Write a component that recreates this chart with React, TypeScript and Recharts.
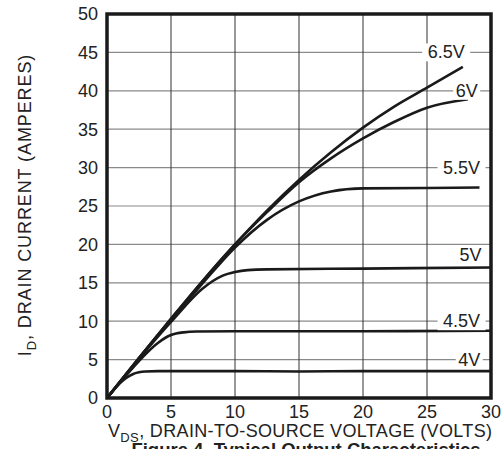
import React from 'react';
import {
  LineChart, Line, XAxis, YAxis, CartesianGrid, ReferenceArea, ReferenceDot, Customized,
} from 'recharts';

const xTicks = [0, 5, 10, 15, 20, 25, 30];
const yTicks = [0, 5, 10, 15, 20, 25, 30, 35, 40, 45, 50];

const vds4 = [0, 0.5, 1, 1.5, 2, 2.5, 3, 4, 6, 10, 15, 20, 25, 30];
const id4 = [0, 1.0, 1.9, 2.6, 3.1, 3.35, 3.45, 3.5, 3.5, 3.5, 3.45, 3.5, 3.5, 3.5];

const vds45 = [0, 1, 2, 3, 4, 5, 6, 7, 10, 20, 30];
const id45 = [0, 2.0, 3.9, 5.7, 7.2, 8.2, 8.55, 8.65, 8.7, 8.7, 8.75];

const vds5 = [0, 2.5, 5, 7.5, 9, 10, 11, 12.5, 20, 30];
const id5 = [0, 5.1, 9.9, 14.3, 15.9, 16.4, 16.65, 16.75, 16.85, 17.0];

const vds55 = [0, 2.5, 5, 7.5, 10, 12.5, 15, 17.5, 20, 25, 29.1];
const id55 = [0, 5.2, 10.2, 15.0, 19.6, 23.2, 25.6, 26.9, 27.3, 27.35, 27.4];

const vds6 = [0, 2.5, 5, 7.5, 10, 12.5, 15, 17.5, 20, 22.5, 25, 28.2];
const id6 = [0, 5.2, 10.3, 15.3, 20.0, 24.2, 28.1, 31.2, 33.8, 36.0, 37.8, 38.9];

const vds65 = [0, 2.5, 5, 7.5, 10, 12.5, 15, 17.5, 20, 22.5, 25, 27.8];
const id65 = [0, 5.2, 10.3, 15.3, 20.0, 24.4, 28.4, 32.0, 35.2, 38.0, 40.4, 43.1];

const curveNames = ['4V', '4.5V', '5V', '5.5V', '6V', '6.5V'];
const labelX = [28.3, 27.7, 28.4, 27.7, 28.1, 26.5];
const labelY = [5, 10, 18.6, 30, 40, 45];

const toData = (xs: number[], ys: number[]) => xs.map((x, i) => ({ x, y: ys[i] }));

const series = [
  toData(vds4, id4),
  toData(vds45, id45),
  toData(vds5, id5),
  toData(vds55, id55),
  toData(vds6, id6),
  toData(vds65, id65),
];

const FONT = 'Liberation Sans, Arial, sans-serif';

const CurveLabel = (props: any) => {
  const { cx, cy, text, boxed } = props;
  const w = text.length * 10.5 + 6;
  return (
    <g>
      {boxed && <rect x={cx - w / 2} y={cy - 9} width={w} height={18} fill="#fff" />}
      <text x={cx} y={cy} textAnchor="middle" dominantBaseline="central" fontFamily={FONT} fontSize={18} fill="#222">
        {text}
      </text>
    </g>
  );
};

const Titles = () => (
  <g fontFamily={FONT} fill="#222">
    <text x={108} y={437} textAnchor="start" fontSize={18} letterSpacing={0.35}>
      V<tspan fontSize={13} dy={5}>DS</tspan><tspan dy={-5}>, DRAIN-TO-SOURCE VOLTAGE (VOLTS)</tspan>
    </text>
    <text transform="translate(31,205) rotate(-90)" textAnchor="middle" fontSize={18} letterSpacing={0.9}>
      I<tspan fontSize={13} dy={5}>D</tspan><tspan dy={-5}>, DRAIN CURRENT (AMPERES)</tspan>
    </text>
    <text x={306} y={456} textAnchor="middle" fontSize={18.5} fontWeight="bold">
      Figure 4. Typical Output Characteristics
    </text>
  </g>
);

export default function App() {
  return (
    <div style={{ position: 'absolute', left: 0, top: 0, width: 503, height: 449, background: '#fff' }}>
      <LineChart width={503} height={449} margin={{ top: 14, right: 12, left: 0, bottom: 0 }}>
        <CartesianGrid horizontal={true} vertical={false} stroke="#8a8a8a" strokeWidth={1.2} />
        <CartesianGrid horizontal={false} vertical={true} stroke="#333" strokeWidth={1} />
        <XAxis
          type="number"
          dataKey="x"
          domain={[0, 30]}
          ticks={xTicks}
          interval={0}
          height={51}
          tickLine={false}
          axisLine={false}
          tick={{ fontSize: 18, fill: '#222', fontFamily: FONT }}
          tickMargin={1}
          allowDuplicatedCategory={false}
        />
        <YAxis
          type="number"
          dataKey="y"
          domain={[0, 50]}
          ticks={yTicks}
          interval={0}
          width={107}
          tickLine={false}
          axisLine={false}
          tick={{ fontSize: 18, fill: '#222', fontFamily: FONT }}
          tickMargin={3}
        />
        {curveNames.map((n, i) => (
          <ReferenceDot
            key={'l' + n}
            x={labelX[i]}
            y={labelY[i]}
            r={0}
            ifOverflow="visible"
            shape={(p: any) => <CurveLabel {...p} text={n} boxed={i !== 2} />}
          />
        ))}
        {series.map((d, i) => (
          <Line
            key={curveNames[i]}
            data={d}
            dataKey="y"
            type="monotone"
            stroke="#1a1a1a"
            strokeWidth={2.6}
            dot={false}
            isAnimationActive={false}
          />
        ))}
        <ReferenceArea x1={0} x2={30} y1={0} y2={50} fill="none" stroke="#1a1a1a" strokeWidth={3.5} ifOverflow="visible" />
        <Customized component={Titles} />
      </LineChart>
    </div>
  );
}
